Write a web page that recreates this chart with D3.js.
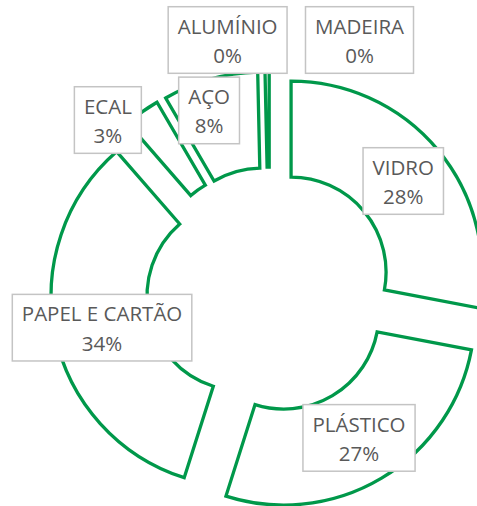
<!DOCTYPE html>
<html>
<head>
<meta charset="utf-8">
<script src="https://cdn.jsdelivr.net/npm/d3@7"></script>
<style>
  html, body { margin: 0; padding: 0; background: #fff; }
  svg { display: block; }
</style>
</head>
<body>
<svg id="chart" width="477" height="506"></svg>
<script>
// ---- data ----
const categories = ["VIDRO", "PLÁSTICO", "PAPEL E CARTÃO", "ECAL", "AÇO", "ALUMÍNIO", "MADEIRA"];
const values     = [28.0, 26.9, 33.7, 3.0, 8.05, 0.35, 0.0];

// ---- layout ----
const W = 477, H = 506;
const cx = 269.5, cy = 290;
const outerR = 191, innerR = 95;
const explode = 28;
const green = "#00984A";
// label nudges (layout only) relative to exploded slice centroid
const labelNudge = {
  "VIDRO": [2, 0],
  "PLÁSTICO": [2, 1],
  "PAPEL E CARTÃO": [0, 3],
  "ECAL": [-62, -31],
  "AÇO": [-14, -15],
  "ALUMÍNIO": [-40, -79],
  "MADEIRA": [90, -79]
};

const data = categories.map((c, i) => ({ name: c, value: values[i] }));
const total = d3.sum(values);

const svg = d3.select("#chart");
const g = svg.append("g").attr("transform", `translate(${cx},${cy})`);

const pie = d3.pie().sort(null).value(d => d.value).startAngle(0).endAngle(2 * Math.PI);
const arc = d3.arc().innerRadius(innerR).outerRadius(outerR);
const arcs = pie(data);

function offset(a) {
  const mid = (a.startAngle + a.endAngle) / 2;
  return [explode * Math.sin(mid), -explode * Math.cos(mid)];
}

g.selectAll("path.slice")
  .data(arcs.filter(a => a.value > 0))
  .join("path")
  .attr("class", "slice")
  .attr("transform", a => { const o = offset(a); return `translate(${o[0]},${o[1]})`; })
  .attr("d", arc)
  .attr("fill", "#fff")
  .attr("stroke", green)
  .attr("stroke-width", 3.3)
  .attr("stroke-linejoin", "miter");

// labels
const fontFamily = "'Open Sans', 'Noto Sans', sans-serif";
const fontSize = 20.5;
const labels = g.selectAll("g.label")
  .data(arcs)
  .join("g")
  .attr("class", "label");

labels.each(function(a) {
  const sel = d3.select(this);
  const o = offset(a);
  const c = arc.centroid(a);
  const n = labelNudge[a.data.name] || [0, 0];
  const x = c[0] + o[0] + n[0];
  const y = c[1] + o[1] + n[1];
  const pct = Math.round(a.data.value / total * 100) + "%";
  const rect = sel.append("rect");
  const t1 = sel.append("text").text(a.data.name)
    .attr("x", x).attr("y", y - 33.3 + 27)
    .attr("text-anchor", "middle")
    .attr("font-family", fontFamily).attr("font-size", fontSize)
    .attr("fill", "#595959");
  const t2 = sel.append("text").text(pct)
    .attr("x", x).attr("y", y - 33.3 + 56.3)
    .attr("text-anchor", "middle")
    .attr("font-family", fontFamily).attr("font-size", fontSize)
    .attr("fill", "#595959");
  const w = Math.max(t1.node().getComputedTextLength(), t2.node().getComputedTextLength()) + 19;
  const h = 66.6;
  rect.attr("x", x - w / 2).attr("y", y - h / 2)
    .attr("width", w).attr("height", h)
    .attr("fill", "#fff")
    .attr("stroke", "#C4C4C4")
    .attr("stroke-width", 1.5);
});
</script>
</body>
</html>
